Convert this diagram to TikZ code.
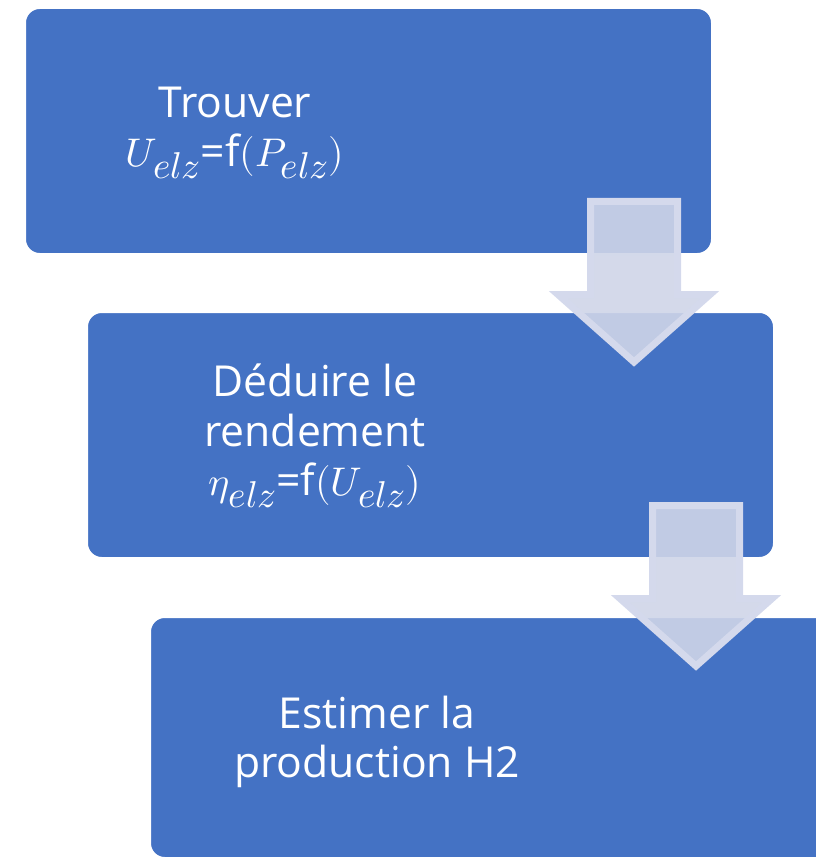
\documentclass[tikz,border=0pt]{standalone}
\usepackage{fontspec}
\usepackage{unicode-math}
\setmainfont{Open Sans}
\setmathfont{Latin Modern Math}
\DeclareMathSizes{30}{30}{28}{20}
\definecolor{boxblue}{RGB}{68,114,196}
\definecolor{arrowfill}{RGB}{207,213,232}
\definecolor{arrowline}{RGB}{212,217,236}
\newcommand\mymth[1]{{\fontsize{30}{37}\selectfont$#1$}}
\begin{document}
\begin{tikzpicture}[x=0.75pt,y=-0.75pt,
  procbox/.style={fill=boxblue, draw=white, line width=1.5pt, rounded corners=11pt,
    minimum width=515.25pt, minimum height=184.5pt, inner sep=0pt},
  procarrow/.style={fill=arrowfill, fill opacity=0.9, draw=arrowline, line width=5.25pt, line join=miter},
  boxtext/.style={text=white, align=center, inner sep=0pt, font=\fontsize{32}{37}\selectfont}]
\useasboundingbox (0,0) rectangle (816,859);
\begin{scope}
\clip (0,0) rectangle (816,859);
\node[procbox] (b1) at (368.5,131) {};
\node[procbox] (b2) at (430.5,435) {};
\node[procbox, minimum height=180.75pt] (b3) at (493.5,737.5) {};
\end{scope}
\node[boxtext] (t1) at (235,133) {Trouver\\\mymth{U_{elz}}=f\mymth{(P_{elz})}};
\node[boxtext] (t2) at (315,436) {Déduire le\\rendement\\\mymth{\eta_{elz}}=f\mymth{(U_{elz})}};
\node[boxtext] (t3) at (377,742) {Estimer la\\production H2};
\draw[procarrow] (590.5,201.5) -- (677.5,201.5) -- (677.5,294.5) -- (710,294.5)
  -- (634,362) -- (558,294.5) -- (590.5,294.5) -- cycle;
\draw[procarrow] (652.5,505.5) -- (739.5,505.5) -- (739.5,598.5) -- (772,598.5)
  -- (696,666) -- (620,598.5) -- (652.5,598.5) -- cycle;
\end{tikzpicture}
\end{document}
